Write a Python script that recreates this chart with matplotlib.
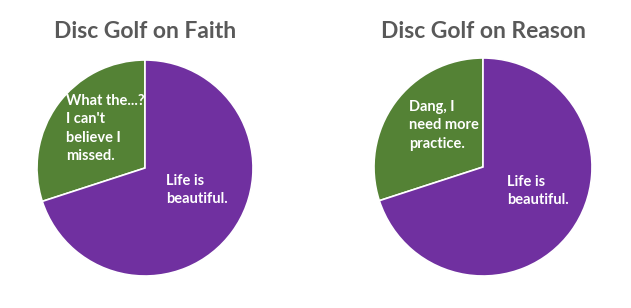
import matplotlib.pyplot as plt

# slice shares (percent)
titles = ["Disc Golf on Faith", "Disc Golf on Reason"]
miss_labels = ["What the...?\nI can't\nbelieve I\nmissed.", "Dang, I\nneed more\npractice."]
life_labels = ["Life is\nbeautiful.", "Life is\nbeautiful."]
miss_share = [30, 30]
life_share = [70, 70]

GREEN = "#548235"
PURPLE = "#7030A0"
TITLE_GREY = "#595959"
FONT = ["Lato", "DejaVu Sans"]

W, H = 631, 308
fig = plt.figure(figsize=(W / 100, H / 100), dpi=100)
fig.patch.set_facecolor("white")

# pie layout in pixels: centre x, centre y, radius
pies = [(145, 168, 108), (483, 167, 109)]
# label anchor positions in pixels (top-left of text block)
miss_pos = [(66, 94), (409, 100)]
life_pos = [(166, 174), (507, 175)]

for i, (cx, cy, r) in enumerate(pies):
    ax = fig.add_axes([(cx - r) / W, (H - cy - r) / H, 2 * r / W, 2 * r / H])
    wedges, _ = ax.pie([miss_share[i], life_share[i]], colors=[GREEN, PURPLE], startangle=90,
                       counterclock=True, radius=1,
                       wedgeprops=dict(edgecolor="white", linewidth=1.2))
    for w in wedges:
        w.set_clip_on(False)
    ax.set_xlim(-1, 1)
    ax.set_ylim(-1, 1)
    ax.set_aspect("auto")
    ax.axis("off")

    mx, my = miss_pos[i]
    fig.text(mx / W, 1 - my / H, miss_labels[i], color="white", fontsize=10.5,
             fontweight="bold", family=FONT, ha="left", va="top", linespacing=1.4)
    lx, ly = life_pos[i]
    fig.text(lx / W, 1 - ly / H, life_labels[i], color="white", fontsize=10.5,
             fontweight="bold", family=FONT, ha="left", va="top", linespacing=1.4)

    fig.text(cx / W, 1 - 31 / H, titles[i], color=TITLE_GREY, fontsize=16.5,
             fontweight="bold", family=FONT, ha="center", va="center")

fig.savefig("out.png", dpi=100)
